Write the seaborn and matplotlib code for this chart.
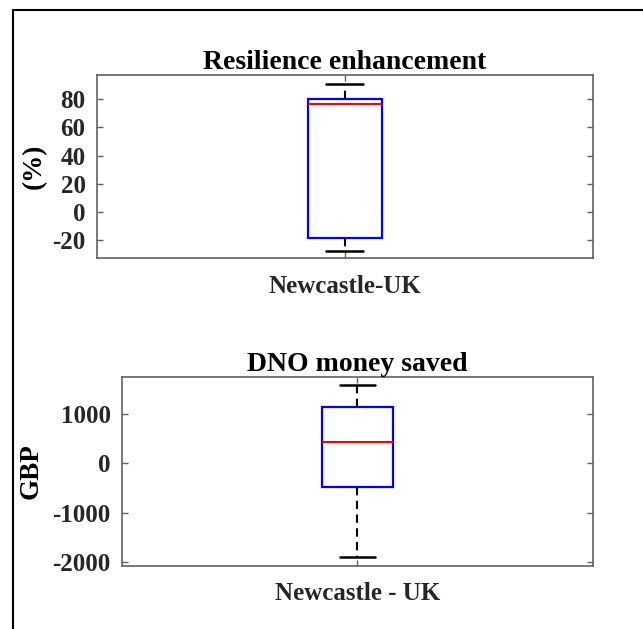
import matplotlib
matplotlib.use("Agg")
import matplotlib.pyplot as plt
from matplotlib.lines import Line2D
import seaborn as sns
import pandas as pd

# Summary values per panel: lower whisker, Q1, median, Q3, upper whisker
resilience_site = "Newcastle-UK"
resilience_pct = [-27.5, -18.5, 77.0, 80.5, 91.0]
resilience_ticks = [-20, 0, 20, 40, 60, 80]

money_site = "Newcastle - UK"
money_gbp = [-1910, -485, 445, 1155, 1600]
money_ticks = [-2000, -1000, 0, 1000]

sns.set_theme(style="white")
plt.rcParams["font.family"] = ["Liberation Serif", "DejaVu Serif"]
plt.rcParams["font.weight"] = "bold"

fig = plt.figure(figsize=(6.43, 6.29), dpi=100)
ax_top = fig.add_axes([0.1504, 0.5893, 0.7718, 0.2915])
ax_bot = fig.add_axes([0.1893, 0.1006, 0.7330, 0.3005])

spine_col = "0.38"
text_col = "0.15"


def draw_panel(ax, site, values, ticks, ylim, title, ylabel, ylabel_x):
    df = pd.DataFrame({"site": [site] * len(values), "value": values})
    sns.boxplot(
        data=df, x="site", y="value", ax=ax,
        width=0.15, whis=(0, 100), color="white", linewidth=1.5,
        boxprops=dict(edgecolor="#0000ff", facecolor="white", linewidth=1.6),
        medianprops=dict(color="#ff0000", linewidth=1.5),
        whiskerprops=dict(color="black", linestyle=(0, (4, 2.6)), linewidth=1.5),
        capprops=dict(color="black", linewidth=1.8),
        showfliers=False,
    )
    ax.set_ylim(*ylim)
    ax.set_xlim(-0.5, 0.5)
    ax.set_yticks(ticks)
    ax.set_yticklabels([str(t) for t in ticks], fontsize=18, fontweight="bold", color=text_col)
    ax.set_xticks([0])
    ax.set_xticklabels([site], fontsize=18, fontweight="bold", color=text_col)
    ax.set_xlabel("")
    ax.set_ylabel(ylabel, fontsize=19.5, fontweight="bold", color="black")
    ax.yaxis.set_label_coords(ylabel_x, 0.5)
    ax.set_title(title, fontsize=20, fontweight="bold", color="black", pad=4)
    for s in ax.spines.values():
        s.set_visible(True)
        s.set_color(spine_col)
        s.set_linewidth(1.2)
    ax.tick_params(axis="both", direction="in", length=4, width=1.0, color=spine_col,
                   top=True, right=True, bottom=True, left=True)
    ax.tick_params(axis="x", pad=12)
    ax.tick_params(axis="y", pad=8)


draw_panel(ax_top, resilience_site, resilience_pct, resilience_ticks, (-33, 97.3),
           "Resilience enhancement", "(%)", -0.100)
draw_panel(ax_bot, money_site, money_gbp, money_ticks, (-2081, 1766),
           "DNO money saved", "GBP", -0.166)

# Frame line along the left and top edges of the figure
x0 = 12.5 / 643
y0 = 1 - 9.5 / 629
fig.add_artist(Line2D([x0, x0], [0, y0], transform=fig.transFigure, color="black", linewidth=1.5))
fig.add_artist(Line2D([x0, 1], [y0, y0], transform=fig.transFigure, color="black", linewidth=1.5))

fig.savefig("out.png", dpi=100, facecolor="white")
